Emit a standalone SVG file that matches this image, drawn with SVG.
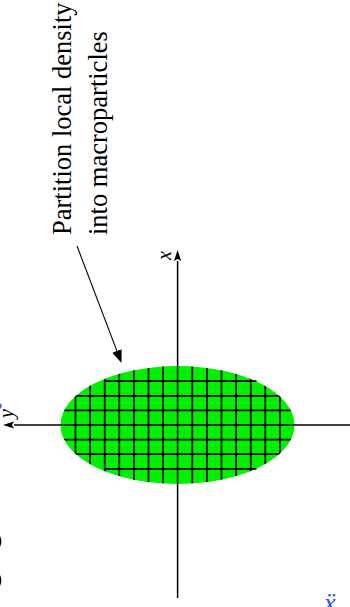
<svg xmlns="http://www.w3.org/2000/svg" width="350" height="607" viewBox="0 0 350 607">
  <style>
    .grid { stroke: #000; stroke-width: 1.7; fill: none; }
    .axis { stroke: #000; stroke-width: 1.5; fill: none; }
    .lbl { font-family: "Liberation Serif", "DejaVu Serif", serif; fill: #000; }
    .math { font-family: "Liberation Serif", "DejaVu Serif", serif; font-style: italic; font-size: 20px; }
  </style>
  <defs>
    <marker id="axhead" viewBox="0 -4 12 8" refX="0" refY="0" markerWidth="12" markerHeight="8" markerUnits="userSpaceOnUse" orient="auto">
      <path d="M0,-3.6 L11,0 L0,3.6 L2,0 z" fill="#000"/>
    </marker>
    <marker id="callhead" viewBox="0 -6 14 12" refX="0" refY="0" markerWidth="14" markerHeight="12" markerUnits="userSpaceOnUse" orient="auto">
      <path d="M0,-5 L13,0 L0,5 z" fill="#000"/>
    </marker>
    <clipPath id="ellclip">
      <ellipse cx="177.5" cy="425" rx="117" ry="59"/>
    </clipPath>
  </defs>
  <rect width="350" height="607" fill="#fff"/>

  <g id="density">
    <ellipse cx="177.5" cy="425" rx="117" ry="59" fill="#00f000"/>
    <g class="grid" clip-path="url(#ellclip)">
      <line x1="75.5" y1="360" x2="75.5" y2="490"/>
      <line x1="90.1" y1="360" x2="90.1" y2="490"/>
      <line x1="104.7" y1="360" x2="104.7" y2="490"/>
      <line x1="119.3" y1="360" x2="119.3" y2="490"/>
      <line x1="133.9" y1="360" x2="133.9" y2="490"/>
      <line x1="148.5" y1="360" x2="148.5" y2="490"/>
      <line x1="163.1" y1="360" x2="163.1" y2="490"/>
      <line x1="192.3" y1="360" x2="192.3" y2="490"/>
      <line x1="206.9" y1="360" x2="206.9" y2="490"/>
      <line x1="221.5" y1="360" x2="221.5" y2="490"/>
      <line x1="236.1" y1="360" x2="236.1" y2="490"/>
      <line x1="250.7" y1="360" x2="250.7" y2="490"/>
      <line x1="265.3" y1="360" x2="265.3" y2="490"/>
      <line x1="279.9" y1="360" x2="279.9" y2="490"/>
      <line x1="50" y1="395.8" x2="300" y2="395.8"/>
      <line x1="50" y1="410.4" x2="300" y2="410.4"/>
      <line x1="50" y1="439.6" x2="300" y2="439.6"/>
      <line x1="50" y1="454.2" x2="300" y2="454.2"/>
    </g>
    <g class="grid">
      <line x1="104.2" y1="381.2" x2="256.5" y2="381.2"/>
      <line x1="104.2" y1="468.8" x2="256.5" y2="468.8"/>
    </g>
  </g>

  <g id="axes">
    <path class="axis" d="M350,425 H14" marker-end="url(#axhead)"/>
    <path class="axis" d="M177.6,598 V261" marker-end="url(#axhead)"/>
    <text class="lbl math" transform="translate(171,260) rotate(-90)">x</text>
    <text class="lbl math" transform="translate(12.5,418) rotate(-90)">y</text>
  </g>

  <g id="label">
    <text class="lbl" font-size="26.5" transform="translate(71,235) rotate(-90)">Partition local density</text>
    <text class="lbl" font-size="26.5" transform="translate(107,235) rotate(-90)">into macroparticles</text>
  </g>

  <g id="connectors">
    <path d="M77,246 L116.9,350.9" stroke="#000" stroke-width="1.1" fill="none" marker-end="url(#callhead)"/>
  </g>

  <g id="edge-fragments">
    <ellipse cx="0.3" cy="406" rx="1.4" ry="2.6" fill="#3a5cf0"/>
    <path d="M-0.8,536 Q2,541.5 -0.8,547" stroke="#000" stroke-width="1.5" fill="none"/>
    <path d="M-0.8,575 Q2,580.5 -0.8,586" stroke="#000" stroke-width="1.5" fill="none"/>
    <text x="324" y="611" fill="#2a4ff0" font-family="Liberation Serif, DejaVu Serif, serif" font-style="italic" font-size="26">ẍ</text>
  </g>
</svg>
